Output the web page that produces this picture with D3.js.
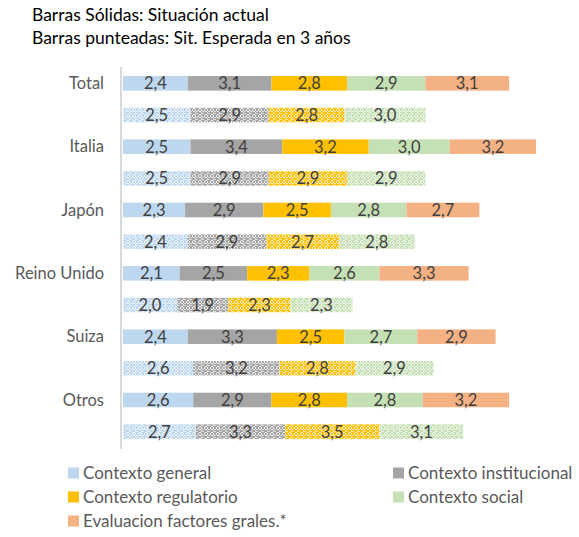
<!DOCTYPE html>
<html>
<head>
<meta charset="utf-8">
<script src="https://cdn.jsdelivr.net/npm/d3@7"></script>
<style>
  body { margin: 0; background: #fff; }
  text { font-family: Lato, "Open Sans", sans-serif; }
</style>
</head>
<body>
<svg id="chart" width="579" height="537"></svg>
<script>
/*
# stacked bars: solid = current situation, dotted = expected in 3 years
*/
var categories = ["Total", "Italia", "Japón", "Reino Unido", "Suiza", "Otros"];
var seriesNames = ["Contexto general", "Contexto institucional", "Contexto regulatorio", "Contexto social", "Evaluacion factores grales.*"];
var colors = ["#bdd7ee", "#a5a5a5", "#ffc000", "#c5e0b4", "#f4b183"];

// situacion actual
var actGeneral = [2.4, 2.5, 2.3, 2.1, 2.4, 2.6];
var actInstitucional = [3.1, 3.4, 2.9, 2.5, 3.3, 2.9];
var actRegulatorio = [2.8, 3.2, 2.5, 2.3, 2.5, 2.8];
var actSocial = [2.9, 3.0, 2.8, 2.6, 2.7, 2.8];
var actEvaluacion = [3.1, 3.2, 2.7, 3.3, 2.9, 3.2];

// situacion esperada en 3 años
var espGeneral = [2.5, 2.5, 2.4, 2.0, 2.6, 2.7];
var espInstitucional = [2.9, 2.9, 2.9, 1.9, 3.2, 3.3];
var espRegulatorio = [2.8, 2.9, 2.7, 2.3, 2.8, 3.5];
var espSocial = [3.0, 2.9, 2.8, 2.3, 2.9, 3.1];

var titleLines = ["Barras Sólidas: Situación actual", "Barras punteadas: Sit. Esperada en 3 años"];

var svg = d3.select("#chart");

// rows: solid then dotted for each category
var rows = [];
categories.forEach(function(c, i) {
  rows.push({key: c + "|a", cat: c, dotted: false,
    values: [actGeneral[i], actInstitucional[i], actRegulatorio[i], actSocial[i], actEvaluacion[i]]});
  rows.push({key: c + "|e", cat: c, dotted: true,
    values: [espGeneral[i], espInstitucional[i], espRegulatorio[i], espSocial[i]]});
});

var x = d3.scaleLinear().domain([0, 16]).range([123, 123 + 16 * 27]);
var y = d3.scaleBand().domain(rows.map(function(r) { return r.key; }))
  .range([67.5, 447.5]).paddingInner(0.54).paddingOuter(0.27);

// dotted patterns
var defs = svg.append("defs");
colors.forEach(function(col, i) {
  var p = defs.append("pattern").attr("id", "pat" + i)
    .attr("patternUnits", "userSpaceOnUse").attr("width", 6).attr("height", 6);
  p.append("rect").attr("width", 6).attr("height", 6).attr("fill", col);
  p.append("path").attr("d", "M1,0h2v1h-2zM0,1h1v2h-1zM3,1h1v2h-1zM1,3h2v1h-2z")
    .attr("fill", "#fff").attr("opacity", 0.85);
  p.append("path").attr("d", "M4,3h2v1h-2zM3,4h1v2h-1zM4,6h2v-1h-2z")
    .attr("fill", "#fff").attr("opacity", 0.6);
});

// title
svg.selectAll(".title").data(titleLines).enter().append("text")
  .attr("class", "title").attr("x", 32).attr("y", function(d, i) { return 20.5 + i * 23.5; })
  .attr("font-size", 17.5).attr("fill", "#000").text(function(d) { return d; });

// axis line
svg.append("line").attr("x1", 121).attr("x2", 121).attr("y1", 67).attr("y2", 449)
  .attr("stroke", "#d9d9d9").attr("stroke-width", 2);

// category labels
svg.selectAll(".cat").data(rows.filter(function(r) { return !r.dotted; })).enter().append("text")
  .attr("class", "cat").attr("x", 104)
  .attr("y", function(r) { return y(r.key) + y.bandwidth() / 2; })
  .attr("dy", "0.35em").attr("text-anchor", "end")
  .attr("font-size", 16.5).attr("fill", "#595959").text(function(r) { return r.cat; });

// segments
var segs = [];
rows.forEach(function(r) {
  var acc = 0;
  r.values.forEach(function(v, j) {
    segs.push({row: r, j: j, x0: acc, x1: acc + v, v: v});
    acc += v;
  });
});

var g = svg.append("g");
g.selectAll("rect").data(segs).enter().append("rect")
  .attr("x", function(d) { return x(d.x0); })
  .attr("width", function(d) { return x(d.x1) - x(d.x0); })
  .attr("y", function(d) { return y(d.row.key); })
  .attr("height", y.bandwidth())
  .attr("fill", function(d) { return d.row.dotted ? "url(#pat" + d.j + ")" : colors[d.j]; });

g.selectAll("text").data(segs).enter().append("text")
  .attr("x", function(d) { return (x(d.x0) + x(d.x1)) / 2; })
  .attr("y", function(d) { return y(d.row.key) + y.bandwidth() / 2; })
  .attr("dy", "0.36em").attr("text-anchor", "middle")
  .attr("font-size", 16.5).attr("fill", "#404040")
  .text(function(d) { return d.v.toFixed(1).replace(".", ","); });

// legend
var legPos = [[68, 473], [393, 473], [68, 497], [393, 497], [68, 521]];
var leg = svg.selectAll(".leg").data(seriesNames).enter().append("g")
  .attr("class", "leg")
  .attr("transform", function(d, i) { return "translate(" + legPos[i][0] + "," + legPos[i][1] + ")"; });
leg.append("rect").attr("x", 0).attr("y", -5.5).attr("width", 11).attr("height", 11)
  .attr("fill", function(d, i) { return colors[i]; });
leg.append("text").attr("x", 15).attr("dy", "0.35em")
  .attr("font-size", 17).attr("fill", "#595959").text(function(d) { return d; });
</script>
</body>
</html>
